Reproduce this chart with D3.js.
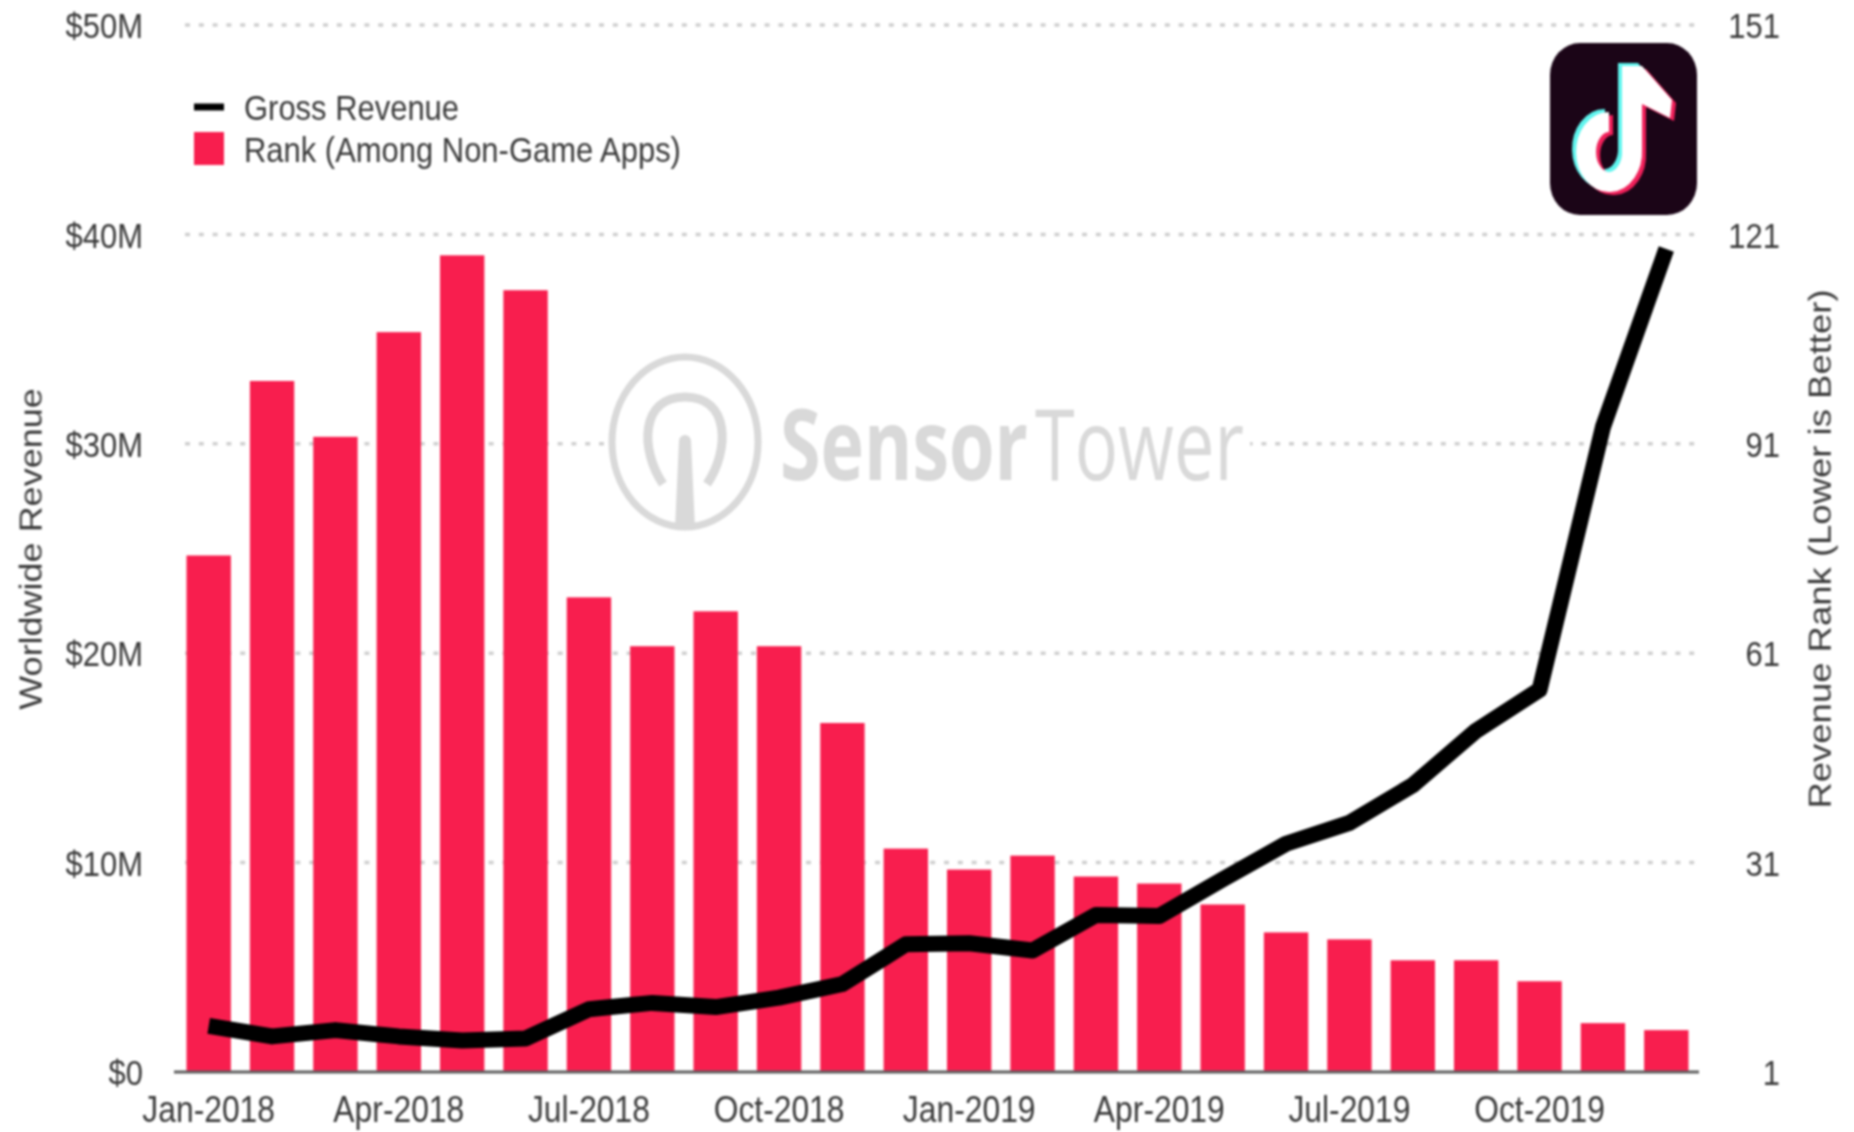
<!DOCTYPE html>
<html>
<head>
<meta charset="utf-8">
<script src="https://cdn.jsdelivr.net/npm/d3@7"></script>
<style>
  html, body { margin: 0; padding: 0; background: #fff; }
  svg { display: block; filter: blur(0.8px); }
  text { font-family: "Liberation Sans", sans-serif; fill: #3a3a3a; }
</style>
</head>
<body>
<svg id="chart"></svg>
<script>
const months = ["Jan-2018","Feb-2018","Mar-2018","Apr-2018","May-2018","Jun-2018","Jul-2018","Aug-2018","Sep-2018","Oct-2018","Nov-2018","Dec-2018",
                "Jan-2019","Feb-2019","Mar-2019","Apr-2019","May-2019","Jun-2019","Jul-2019","Aug-2019","Sep-2019","Oct-2019","Nov-2019","Dec-2019"];
const monthTicks = ["Jan-2018","Apr-2018","Jul-2018","Oct-2018","Jan-2019","Apr-2019","Jul-2019","Oct-2019"];
// rank among non-game apps
const rank = [75,100,92,107,118,113,69,62,67,62,51,33,30,32,29,28,25,21,20,17,17,14,8,7];
// gross revenue in $M
const revenue = [2.2,1.7,2.0,1.7,1.5,1.6,3.0,3.3,3.1,3.55,4.2,6.1,6.15,5.8,7.5,7.45,9.2,10.9,11.9,13.7,16.3,18.25,30.8,39.3];
const revenueTicks = [0,10,20,30,40,50];
const rankTicks = [1,31,61,91,121,151];

const width = 1854;
const height = 1132;
const squeeze = "scale(0.86,1)"; // the source image is narrower than it is tall

const svg = d3.select("svg#chart")
              .attr("width", width)
              .attr("height", height)
              .attr("viewBox", [0, 0, width, height]);

const x = d3.scaleBand().domain(months).range([177, 1698]).paddingInner(0.3).paddingOuter(0.15);
const yRevenue = d3.scaleLinear().domain([0, 50]).range([1072, 25]);
const yRank = d3.scaleLinear().domain([1, 151]).range([1072, 25]);

// gridlines
svg.append("g")
   .selectAll("line")
   .data(revenueTicks.slice(1))
   .join("line")
   .attr("x1", 185)
   .attr("x2", 1698)
   .attr("y1", d => yRevenue(d))
   .attr("y2", d => yRevenue(d))
   .attr("stroke", "#cfcfcf")
   .attr("stroke-width", 3.5)
   .attr("stroke-dasharray", "5 8.8");

// watermark
const mark = svg.append("g");
mark.append("rect").attr("x", 606).attr("y", 350).attr("width", 644).attr("height", 186).attr("fill", "#fff");
mark.append("ellipse")
    .attr("cx", 685).attr("cy", 442).attr("rx", 73).attr("ry", 85)
    .attr("fill", "none").attr("stroke", "#d9d9d9").attr("stroke-width", 7);
mark.append("path")
    .attr("d", "M663,484 C640,450 640,397 685,397 C730,397 730,450 707,484")
    .attr("fill", "none").attr("stroke", "#d9d9d9").attr("stroke-width", 9);
mark.append("path")
    .attr("d", "M679,441 A6,6 0 0 1 691,441 L695,528 L675,528 Z")
    .attr("fill", "#d9d9d9");
[["Sensor", 700, 780, 248], ["Tower", 400, 1035, 209]].forEach(([word, weight, left, w]) => {
  const t = mark.append("text")
      .style("font-family", "'Open Sans'").style("font-size", "98px").style("font-weight", weight).style("fill", "#d9d9d9")
      .text(word);
  const k = w / t.node().getComputedTextLength();
  t.attr("transform", `translate(${left},480) scale(${k},1)`);
});

// bars
svg.append("g")
   .selectAll("rect")
   .data(months)
   .join("rect")
   .attr("x", d => x(d))
   .attr("width", x.bandwidth())
   .attr("y", (d, i) => yRank(rank[i]))
   .attr("height", (d, i) => yRank(1) - yRank(rank[i]))
   .attr("fill", "#f81e4e");

// baseline and month labels
const xAxis = svg.append("g")
   .attr("transform", "translate(0,1072)")
   .call(d3.axisBottom(x).tickValues(monthTicks).tickSize(0).tickPadding(24));
xAxis.select(".domain").attr("stroke", "#5f5f5f").attr("stroke-width", 3).attr("d", "M174,0H1699");
xAxis.selectAll("text").style("font-size", "37px").style("fill", "#3a3a3a").attr("transform", squeeze);

const leftAxis = svg.append("g")
   .attr("transform", "translate(143,0)")
   .call(d3.axisLeft(yRevenue).tickValues(revenueTicks).tickSize(0).tickPadding(0).tickFormat(d => d === 0 ? "$0" : `$${d}M`));
const rightAxis = svg.append("g")
   .attr("transform", "translate(1780,0)")
   .call(d3.axisRight(yRank).tickValues(rankTicks).tickSize(0).tickPadding(0));
rightAxis.selectAll("text").attr("text-anchor", "end");
[leftAxis, rightAxis].forEach(a => {
  a.select(".domain").remove();
  a.selectAll("text").style("font-size", "36px").style("fill", "#3a3a3a").attr("dy", "0.35em").attr("transform", squeeze);
});

// revenue line
const line = d3.line()
               .x((d, i) => x(months[i]) + x.bandwidth() / 2)
               .y(d => yRevenue(d));
svg.append("path")
   .datum(revenue)
   .attr("d", line)
   .attr("fill", "none")
   .attr("stroke", "#000")
   .attr("stroke-width", 16)
   .attr("stroke-linejoin", "round");

// axis titles
svg.append("text")
   .attr("transform", "translate(42,549) rotate(-90) scale(1,0.86)")
   .attr("text-anchor", "middle")
   .style("font-size", "36px")
   .text("Worldwide Revenue");
svg.append("text")
   .attr("transform", "translate(1831,549) rotate(-90) scale(1,0.86)")
   .attr("text-anchor", "middle")
   .style("font-size", "36.5px")
   .text("Revenue Rank (Lower is Better)");

// legend
svg.append("line").attr("x1", 194).attr("x2", 224).attr("y1", 107).attr("y2", 107)
   .attr("stroke", "#000").attr("stroke-width", 7);
svg.append("rect").attr("x", 194).attr("y", 132).attr("width", 30).attr("height", 33).attr("fill", "#f81e4e");
svg.append("text").attr("transform", "translate(244,120) " + squeeze).style("font-size", "36px").text("Gross Revenue");
svg.append("text").attr("transform", "translate(244,162) " + squeeze).style("font-size", "36px").text("Rank (Among Non-Game Apps)");

// app icon
const icon = svg.append("g");
icon.append("rect").attr("x", 1550).attr("y", 43).attr("width", 147).attr("height", 172).attr("rx", 30).attr("ry", 32).attr("fill", "#1b0517");
const note = "M1632,66 V150 A23,30 0 1 1 1609,122";
const flag = "M1642,66 L1672,100 L1670,118 L1642,104 Z";
[["#5ff5ee", -4, -3], ["#f0205a", 4, 3], ["#fff", 0, 0]].forEach(([c, dx, dy]) => {
  const g = icon.append("g").attr("transform", `translate(${dx},${dy})`);
  g.append("path").attr("d", note).attr("fill", "none").attr("stroke", c).attr("stroke-width", 20);
  g.append("path").attr("d", flag).attr("fill", c);
});
</script>
</body>
</html>
